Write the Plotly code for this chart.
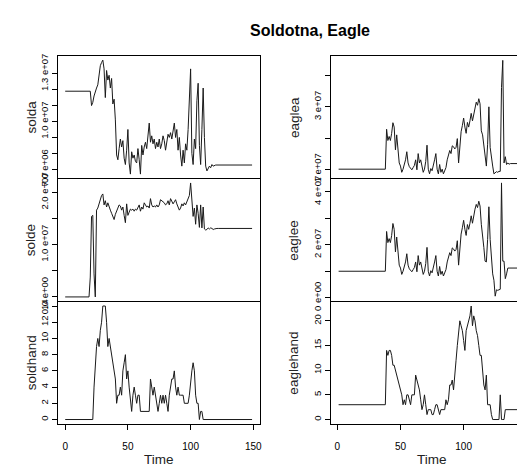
import plotly.graph_objects as go

# ---------------- data ----------------
time_left = list(range(0, 150))
time_right = list(range(1, 150))

# Soldotna series (solda, solde in millions)
solda_m = [
    11.9, 11.9, 11.9, 11.9, 11.9, 11.9, 11.9, 11.9, 11.9, 11.9,
    11.9, 11.9, 11.9, 11.9, 11.9, 11.9, 11.9, 11.9, 11.9, 11.9,
    11.9,
    11.0, 11.2, 11.6, 11.9, 12.1, 12.3, 13.0, 13.5, 13.7, 13.85,
    13.3, 11.5, 13.2, 12.6, 12.9, 12.1, 12.7, 11.1, 11.4, 10.1,
    7.9, 7.6, 8.3, 8.9, 8.4, 8.8, 7.7, 7.3, 8.2, 9.5,
    7.4, 6.7, 8.1, 7.7, 7.9, 7.5, 7.4, 8.3, 7.6, 6.7,
    8.5, 7.9, 8.4, 8.7, 8.3, 9.3, 9.9, 8.7, 9.1, 8.6,
    8.9, 8.3, 8.7, 8.4, 8.9, 8.3, 8.6, 9.1, 8.8, 8.2,
    8.6, 9.2, 9.0, 9.3, 8.9, 9.4, 9.9, 9.0, 9.5, 8.2,
    9.0, 7.9, 7.2, 8.2, 7.4, 8.6, 8.2, 9.5, 11.9, 13.3,
    8.0, 7.3, 8.9, 8.3, 11.3, 12.4, 8.5, 7.3, 9.5, 12.1,
    9.0, 7.2, 6.9, 7.1, 7.2, 7.1, 7.3, 7.2, 7.25,
    7.27, 7.27, 7.27, 7.27, 7.27, 7.27, 7.27, 7.27, 7.27, 7.27,
    7.27, 7.27, 7.27, 7.27, 7.27, 7.27, 7.27, 7.27, 7.27, 7.27,
    7.27, 7.27, 7.27, 7.27, 7.27, 7.27, 7.27, 7.27, 7.27, 7.27,
]

solde_m = [
    0, 0, 0, 0, 0, 0, 0, 0, 0, 0,
    0, 0, 0, 0, 0, 0, 0, 0, 0, 0,
    3.8, 15.4, 15.6, 4.4, 0, 16.6, 17.0, 17.8, 18.6, 19.4,
    19.7, 17.6, 18.4, 17.2, 18.0, 17.0, 16.6, 16.0, 15.2, 14.8,
    15.8, 16.6, 17.0, 17.6, 17.4, 16.6, 17.2, 15.6, 14.2, 17.8,
    15.6, 16.2, 16.8, 16.6, 16.8, 16.4, 16.8, 16.6, 17.0, 17.6,
    16.4, 17.2, 16.8, 18.0, 17.6, 17.2, 17.4, 17.0, 18.8, 17.6,
    17.2, 17.4, 17.2, 17.6, 17.2, 17.6, 18.6, 18.4, 18.2, 18.0,
    17.6, 17.8, 18.4, 17.6, 18.8, 18.2, 17.8, 18.2, 18.6, 17.8,
    17.2, 16.6, 17.0, 17.8, 17.4, 18.0, 17.6, 18.2, 18.8, 19.4,
    21.8, 18.4, 15.4, 17.0, 13.9, 17.6, 16.0, 13.3, 17.6, 13.2,
    17.2, 13.0, 12.8, 12.9, 13.2, 13.0, 13.2, 13.1, 12.9, 13.0,
    13.1, 13.1, 13.1, 13.1, 13.1, 13.1, 13.1, 13.1, 13.1, 13.1,
    13.1, 13.1, 13.1, 13.1, 13.1, 13.1, 13.1, 13.1, 13.1, 13.1,
    13.1, 13.1, 13.1, 13.1, 13.1, 13.1, 13.1, 13.1, 13.1, 13.1,
]

soldhand = [
    0, 0, 0, 0, 0, 0, 0, 0, 0, 0,
    0, 0, 0, 0, 0, 0, 0, 0, 0, 0,
    0, 0, 0,
    4, 7, 9, 10, 9, 11, 12, 14, 14, 14,
    12, 9, 10, 9, 8, 7, 6, 5, 2, 3,
    3, 4, 3, 6, 7, 8, 5, 6, 4, 2,
    1, 3, 4, 3, 2, 3, 3, 1, 1, 1,
    1, 1, 1, 1, 1, 5, 4, 3, 4, 3,
    2, 1, 2, 3, 2, 3, 2, 3, 2, 1,
    3, 4, 5, 5, 6, 4, 3, 4, 3, 3,
    3, 3, 2, 2, 2, 2, 3, 5, 6, 7,
    6, 3, 2, 2, 0, 1, 1, 0,
    0, 0, 0, 0, 0, 0, 0, 0, 0, 0,
    0, 0, 0, 0, 0, 0, 0, 0, 0, 0,
    0, 0, 0, 0, 0, 0, 0, 0, 0, 0,
    0, 0, 0, 0, 0, 0, 0, 0, 0,
]

# Eagle series (eaglea, eaglee in millions)
eaglea_m = [
    10, 10, 10, 10, 10, 10, 10, 10, 10, 10,
    10, 10, 10, 10, 10, 10, 10, 10, 10, 10,
    10, 10, 10, 10, 10, 10, 10, 10, 10, 10,
    10, 10, 10, 10, 10, 10, 10, 10,
    22.8, 19.2, 20.5, 19.2, 21.5, 24.9, 23.5, 16.2, 21.0, 15.0,
    12.0, 11.0, 9.0, 10.0, 11.5, 13.0, 15.6, 12.0, 10.8, 10.2,
    9.8, 10.5, 11.2, 13.0, 9.8, 15.0, 12.0, 13.0, 10.8, 9.0,
    10.0, 12.5, 17.7, 10.0, 8.5, 10.2, 9.5, 12.0, 13.0, 15.0,
    10.0, 8.5, 11.5, 9.0, 10.0, 8.5, 9.5, 10.5, 13.0, 14.5,
    16.0, 15.0, 17.5, 17.2, 16.5, 17.0, 19.8, 12.0, 17.0, 22.0,
    24.0, 26.4, 23.5, 21.5, 25.0, 23.5, 25.5, 27.9, 25.5, 28.0,
    30.0, 31.5, 30.5, 32.6, 31.0, 22.3, 21.0, 17.0, 14.0, 11.0,
    18.0, 30.0, 17.0, 13.0, 11.0, 8.5, 8.8, 9.2, 9.0, 9.3,
    9.3, 36.2, 44.9, 12.0, 14.0, 11.5, 12.0, 11.6,
    11.8, 11.8, 11.8, 11.8, 11.8, 11.8, 11.8, 11.8, 11.8, 11.8,
    11.8, 11.8, 11.8,
]

eaglee_m = [
    10, 10, 10, 10, 10, 10, 10, 10, 10, 10,
    10, 10, 10, 10, 10, 10, 10, 10, 10, 10,
    10, 10, 10, 10, 10, 10, 10, 10, 10, 10,
    10, 10, 10, 10, 10, 10, 10, 10,
    25.0, 20.8, 22.3, 20.8, 23.5, 28.0, 25.8, 17.3, 22.9, 15.9,
    12.3, 11.2, 8.8, 10.0, 11.8, 13.5, 16.6, 12.3, 10.9, 10.2,
    9.8, 10.6, 11.4, 13.5, 9.8, 15.9, 12.3, 13.5, 10.9, 8.8,
    10.0, 12.9, 19.0, 10.0, 8.2, 10.2, 9.4, 12.3, 13.5, 15.9,
    10.0, 8.2, 11.8, 8.8, 10.0, 8.2, 9.4, 10.6, 13.5, 15.3,
    17.0, 15.9, 18.8, 18.4, 17.6, 18.2, 21.5, 12.3, 18.2, 24.0,
    26.4, 29.2, 25.8, 23.5, 27.6, 25.8, 28.1, 30.9, 28.1, 31.1,
    33.4, 35.2, 34.0, 36.4, 34.6,
    27.7, 24.0, 19.0, 13.8, 13.5, 22.0, 34.3, 22.0, 13.8, 9.0,
    6.6, 0.6, 3.0, 2.8, 3.0, 3.2, 43.3, 13.8, 13.8, 7.2, 9.0, 11.2,
    11.2, 11.2, 11.2, 11.2, 11.2, 11.2, 11.2, 11.2, 11.2, 11.2,
    11.2, 11.2, 11.2, 11.2,
]

eaglehand = [
    3, 3, 3, 3, 3, 3, 3, 3, 3, 3,
    3, 3, 3, 3, 3, 3, 3, 3, 3, 3,
    3, 3, 3, 3, 3, 3, 3, 3, 3, 3,
    3, 3, 3, 3, 3, 3, 3, 3,
    14, 13, 14, 14, 13, 11, 11, 10, 9, 8,
    7, 6, 5, 3, 4, 3, 5, 5, 4, 3,
    5, 5, 5, 9, 8, 7, 6, 4, 2, 3,
    5, 3, 1, 2, 2, 2, 1, 1, 2, 3,
    3, 2, 1, 2, 2, 2, 2, 4, 3, 4,
    7, 7, 8, 6, 10, 12, 15, 17, 20, 19,
    18, 16, 14, 18, 19, 20, 21, 23, 19, 21,
    20, 18, 17, 15, 13, 13, 10, 7, 6, 9,
    3, 3, 3, 1, 0, 0, 0, 0, 0, 0,
    5, 0, 0, 0, 2,
    2, 2, 2, 2, 2, 2, 2, 2, 2, 2,
    2, 2, 2, 2, 2, 2,
]

x_tick_vals = [0, 50, 100, 150]

solda_ticks = [7e6, 8e6, 9e6, 1e7, 1.1e7, 1.2e7, 1.3e7]
solda_labels = ["7.0 e+06", "", "", "1.0 e+07", "", "", "1.3 e+07"]
solde_ticks = [0, 5e6, 1e7, 1.5e7, 2e7]
solde_labels = ["0.0 e+00", "", "1.0 e+07", "", "2.0 e+07"]
soldhand_ticks = [0, 2, 4, 6, 8, 10, 12, 14]
eaglea_ticks = [1e7, 2e7, 3e7, 4e7]
eaglea_labels = ["1 e+07", "", "3 e+07", ""]
eaglee_ticks = [0, 1e7, 2e7, 3e7, 4e7]
eaglee_labels = ["0 e+00", "", "2 e+07", "", "4 e+07"]
eaglehand_ticks = [0, 5, 10, 15, 20]

to_units = lambda vals: [v * 1e6 for v in vals]

# ---------------- figure ----------------
W, H = 525, 467
FONT = "Liberation Sans, Arial, Helvetica, sans-serif"

def px_x(p):
    return p / W

def px_y(p):
    return 1 - p / H

left_dom = [px_x(50), px_x(253)]
right_dom = [px_x(325), 1.0]
row_doms = [
    [px_y(171), px_y(43.5)],
    [px_y(299), px_y(171)],
    [px_y(426.5), px_y(299)],
]

panels = [
    (time_left, to_units(solda_m), 0, 0, [6.43e6, 1.412e7], solda_ticks, solda_labels),
    (time_left, to_units(solde_m), 0, 1, [-0.87e6, 22.67e6], solde_ticks, solde_labels),
    (time_left, soldhand, 0, 2, [-0.56, 14.56], soldhand_ticks, [str(v) for v in soldhand_ticks]),
    (time_right, to_units(eaglea_m), 1, 0, [7.04e6, 46.36e6], eaglea_ticks, eaglea_labels),
    (time_right, to_units(eaglee_m), 1, 1, [-1.4e6, 45.0e6], eaglee_ticks, eaglee_labels),
    (time_right, eaglehand, 1, 2, [-0.92, 23.92], eaglehand_ticks, [str(v) for v in eaglehand_ticks]),
]

fig = go.Figure()
layout = dict(
    width=W, height=H,
    margin=dict(l=0, r=0, t=0, b=0),
    paper_bgcolor="white", plot_bgcolor="white",
    showlegend=False,
    font=dict(family=FONT, color="black"),
)

for i, (xs, ys, col, row, yr, tv, tt) in enumerate(panels):
    n = i + 1
    xa = "x" if n == 1 else f"x{n}"
    ya = "y" if n == 1 else f"y{n}"
    fig.add_trace(go.Scatter(x=xs, y=ys, mode="lines", xaxis=xa, yaxis=ya,
                             line=dict(color="#1a1a1a", width=1), hoverinfo="skip"))
    bottom = row == 2
    xrange = [-5.96, 154.96] if col == 0 else [-4.92, 152.56]
    layout["xaxis" if n == 1 else f"xaxis{n}"] = dict(
        domain=left_dom if col == 0 else right_dom,
        anchor=ya, range=xrange,
        showline=True, linecolor="black", linewidth=1, mirror=(row == 0),
        showgrid=False, zeroline=False,
        ticks="outside" if bottom else "", ticklen=5, tickcolor="black", tickwidth=1,
        tickvals=x_tick_vals if bottom else [],
        showticklabels=bottom,
        ticklabelstandoff=8,
        tickfont=dict(size=10, family=FONT, color="black"),
    )
    layout["yaxis" if n == 1 else f"yaxis{n}"] = dict(
        domain=row_doms[row], anchor=xa, range=yr,
        showline=True, linecolor="black", linewidth=1, mirror=(col == 0),
        showgrid=False, zeroline=False,
        ticks="outside", ticklen=5, tickcolor="black", tickwidth=1,
        tickvals=tv, ticktext=tt, tickangle=-90,
        tickfont=dict(size=9.5, family=FONT, color="black"),
    )

names = [["solda", "solde", "soldhand"], ["eaglea", "eaglee", "eaglehand"]]
ann = []
for col, xc in enumerate([23.5, 287.5]):
    for row in range(3):
        yc = (row_doms[row][0] + row_doms[row][1]) / 2
        ann.append(dict(text=names[col][row], x=px_x(xc), y=yc, xref="paper", yref="paper",
                        showarrow=False, textangle=-90, xanchor="center", yanchor="middle",
                        font=dict(size=13.5, family=FONT, color="#222")))
for xc in [151.5, 426.5]:
    ann.append(dict(text="Time", x=px_x(xc), y=px_y(463.5), xref="paper", yref="paper",
                    showarrow=False, xanchor="center", yanchor="middle",
                    font=dict(size=13.5, family=FONT, color="#222")))
ann.append(dict(text="<b>Soldotna, Eagle</b>", x=px_x(303.3), y=px_y(17.5), xref="paper", yref="paper",
                showarrow=False, xanchor="center", yanchor="middle",
                font=dict(size=16, family=FONT, color="black")))
layout["annotations"] = ann

fig.update_layout(**layout)
fig.write_html("out.html")
